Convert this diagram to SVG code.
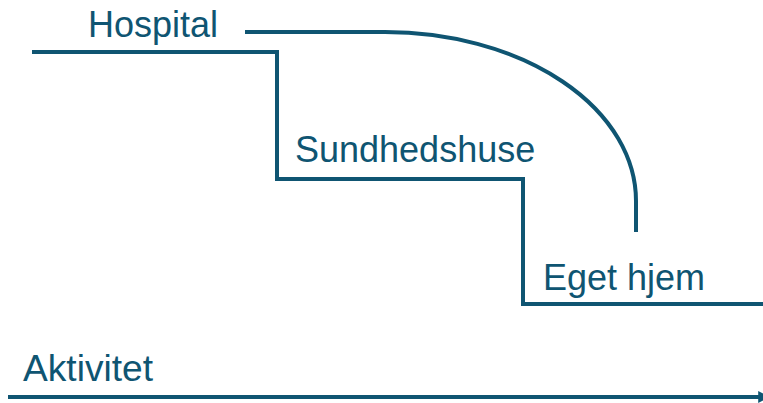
<svg xmlns="http://www.w3.org/2000/svg" width="763" height="403" viewBox="0 0 763 403">
<style>
.ln{fill:none;stroke:#0f5572;stroke-width:4}
.t{font-family:"Liberation Sans",Arial,sans-serif;font-size:36px;fill:#0f5572}
</style>
<defs>
<marker id="ah" viewBox="0 0 10 10" refX="9" refY="5" markerWidth="3" markerHeight="3" orient="auto" markerUnits="strokeWidth">
<path d="M0,0 L10,5 L0,10 Z" fill="#0f5572"/>
</marker>
</defs>
<g id="connectors">
<path class="ln" d="M32,52 H277 V179 H523 V304 H763"/>
<path class="ln" d="M245,32 H385 A251,169 0 0 1 636,201 V232"/>
<path class="ln" d="M8,397 H769" marker-end="url(#ah)"/>
</g>
<g id="hospital"><text class="t" x="88" y="37">Hospital</text></g>
<g id="sundhedshuse"><text class="t" x="295" y="162">Sundhedshuse</text></g>
<g id="eget-hjem"><text class="t" x="543" y="290">Eget hjem</text></g>
<g id="aktivitet"><text class="t" x="23" y="381" textLength="130" lengthAdjust="spacingAndGlyphs">Aktivitet</text></g>
</svg>
